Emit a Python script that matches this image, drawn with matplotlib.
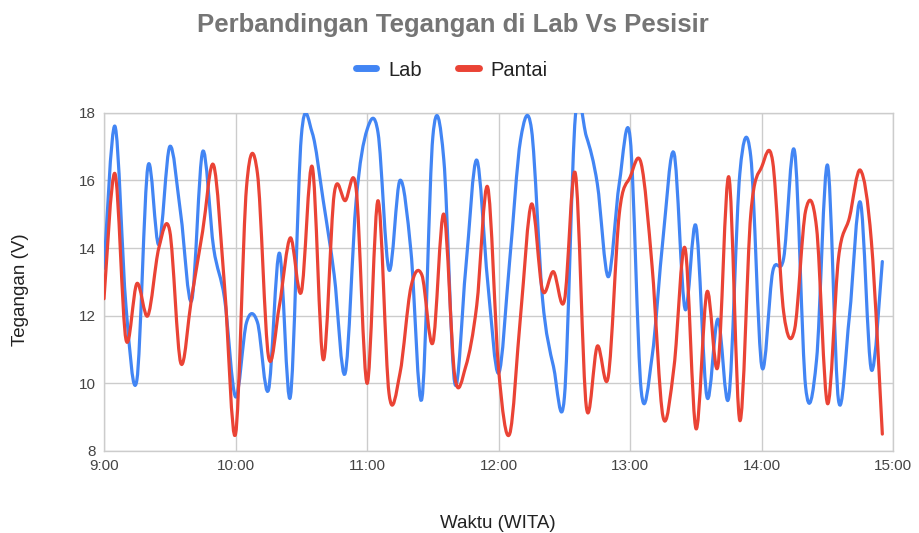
import numpy as np
import matplotlib
matplotlib.use("Agg")
import matplotlib.pyplot as plt
from matplotlib.path import Path
from matplotlib.patches import PathPatch
from matplotlib.lines import Line2D

plt.rcParams['font.family'] = ['Liberation Sans', 'DejaVu Sans']

# Data: satu titik tiap 5 menit, 09:00 - 14:55
menit = np.arange(0, 360, 5)

lab = [13.4, 17.6, 12.3, 10.1, 16.4, 14.1, 17.0, 15.0, 12.45, 16.85,
       14.0, 12.5, 9.6, 11.8, 11.8, 9.8, 13.85, 9.6, 17.3, 17.4,
       15.4, 13.2, 10.3, 15.4, 17.5, 17.4, 13.35, 16.0, 13.9, 9.55,
       17.3, 16.6, 10.0, 13.4, 16.6, 13.0, 10.3, 13.6, 17.2, 17.5,
       12.5, 10.5, 9.6, 17.9, 17.3, 15.9, 13.15, 15.9, 17.24, 9.8,
       10.8, 14.3, 16.8, 12.2, 14.65, 9.6, 11.9, 9.6, 16.2, 16.7,
       10.5, 13.3, 13.7, 16.85, 9.9, 10.7, 16.45, 9.5, 12.0, 15.35,
       10.4, 13.6]

pantai = [12.5, 16.2, 11.3, 12.95, 12.0, 14.0, 14.5, 10.6, 12.55, 14.5,
          16.45, 12.85, 8.5, 15.8, 16.2, 10.8, 12.3, 14.3, 12.7, 16.4,
          10.7, 15.6, 15.4, 15.75, 10.0, 15.4, 9.7, 10.3, 12.85, 13.2,
          11.2, 15.0, 10.2, 10.5, 12.3, 15.8, 10.4, 8.5, 12.0, 15.3,
          12.75, 13.3, 12.45, 16.2, 9.3, 11.1, 10.2, 15.0, 16.1, 16.5,
          13.45, 9.0, 10.5, 14.0, 8.66, 12.7, 10.5, 16.1, 8.9, 15.0,
          16.4, 16.55, 12.1, 11.6, 15.1, 14.6, 9.4, 13.7, 14.9, 16.3,
          14.2, 8.5]

jam_ticks = [9, 10, 11, 12, 13, 14, 15]
jam_labels = ["9:00", "10:00", "11:00", "12:00", "13:00", "14:00", "15:00"]
y_ticks = [8, 10, 12, 14, 16, 18]

BIRU = '#4285F4'
MERAH = '#EA4335'


def kurva_halus(x, y):
    # garis halus (Catmull-Rom -> Bezier) lewat semua titik data
    pts = np.column_stack([np.asarray(x, float), np.asarray(y, float)])
    n = len(pts)
    verts = [pts[0]]
    codes = [Path.MOVETO]
    for i in range(n - 1):
        p0 = pts[max(i - 1, 0)]
        p1 = pts[i]
        p2 = pts[i + 1]
        p3 = pts[min(i + 2, n - 1)]
        verts += [p1 + (p2 - p0) / 6, p2 - (p3 - p1) / 6, p2]
        codes += [Path.CURVE4] * 3
    return Path(verts, codes)


jam = 9 + menit / 60.0

fig = plt.figure(figsize=(9.19, 5.33), dpi=100)
ax = fig.add_axes([104 / 919, 1 - 451 / 533, (893.3 - 104) / 919, (451 - 112.7) / 533])

for data, warna in [(lab, BIRU), (pantai, MERAH)]:
    patch = PathPatch(kurva_halus(jam, data), facecolor='none', edgecolor=warna,
                      linewidth=2.3, capstyle='round', joinstyle='round',
                      transform=ax.transData, zorder=3)
    ax.add_patch(patch)

ax.set_xlim(9, 15)
ax.set_ylim(8, 18)
ax.set_xticks(jam_ticks)
ax.set_xticklabels(jam_labels)
ax.set_yticks(y_ticks)
ax.grid(True, color='#cccccc', linewidth=1)
ax.set_axisbelow(True)
for s in ax.spines.values():
    s.set_color('#cccccc')
    s.set_linewidth(1)
ax.tick_params(length=0, labelsize=11, colors='#444444', pad=6)

# judul sumbu
fig.text(498 / 919, 1 - 523 / 533, 'Waktu (WITA)', ha='center', va='center',
         fontsize=13.5, color='#222222')
fig.text(21 / 919, 1 - 290 / 533, 'Tegangan (V)', ha='center', va='center',
         rotation=90, fontsize=13.5, color='#222222')

fig.text(453 / 919, 1 - 25 / 533, 'Perbandingan Tegangan di Lab Vs Pesisir',
         ha='center', va='center', fontsize=18.5, fontweight='bold', color='#757575')

handles = [Line2D([], [], color=BIRU, linewidth=5, solid_capstyle='round'),
           Line2D([], [], color=MERAH, linewidth=5, solid_capstyle='round')]
fig.legend(handles, ['Lab', 'Pantai'], loc='center', ncol=2, frameon=False,
           bbox_to_anchor=(452 / 919, 1 - 70 / 533), fontsize=14.5,
           handlelength=1.0, columnspacing=1.8, handletextpad=0.6,
           labelcolor='#222222')

fig.savefig('out.png', dpi=100)
